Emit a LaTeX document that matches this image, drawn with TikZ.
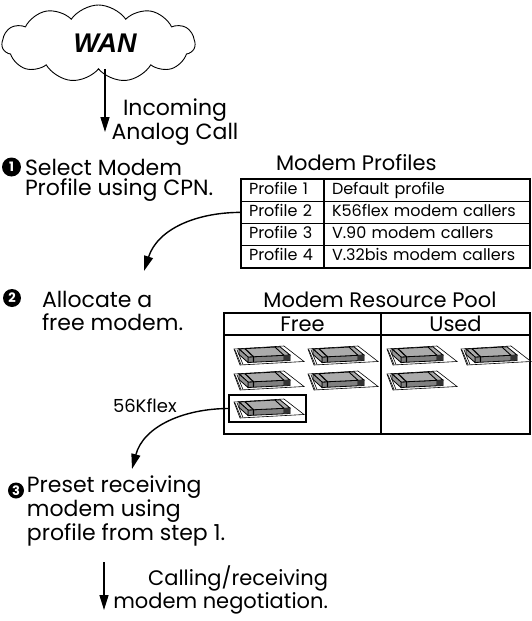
\documentclass[tikz,border=0pt]{standalone}
\usepackage{fontspec}
\setmainfont{Poppins}
\newfontfamily\wanfont{Liberation Sans}
\usetikzlibrary{arrows.meta,shapes.symbols}

% flat modem card drawn in perspective, origin at its top-left corner
\tikzset{
  modem/.pic={
    \draw[line width=0.6, fill=white] (0,3) -- (50,0) -- (70,15.5) -- (6,19) -- cycle;
    \draw[line width=0.8, fill=black!50] (14,11) -- (56,9) -- (56,14.5) -- (14,16.5) -- cycle;
    \draw[line width=0.8, fill=black!33] (5,3) -- (46,0.8) -- (56,9) -- (14,11) -- cycle;
    \draw[line width=0.8, fill=black!42] (5,3) -- (14,11) -- (14,16.5) -- (5,8.5) -- cycle;
    \draw[line width=1.2] (11,2.7) -- (19.5,10.8) -- (19.5,16.2);
    \draw[line width=0.9] (41,1.1) -- (50,9.3) -- (50,14.8);
    \fill[black!80] (50,9.3) -- (56,9) -- (56,14.5) -- (50,14.8) -- cycle;
    \draw[line width=0.6] (1,4) -- (7,18.5) (3,3.8) -- (9,18.5);
  }
}

\begin{document}
\begin{tikzpicture}[x=1pt, y=-1pt,
  every node/.style={inner sep=0, outer sep=0},
  flow/.style={line width=1.4, -{Triangle[length=15,width=9]}},
  caption/.style={font=\fontsize{22}{#1}\selectfont},
  caption/.default=22,
  num/.style={circle, fill=black, text=white, font=\fontsize{13}{13}\selectfont\bfseries},
  lcell/.style={draw, line width=1.1, anchor=north west, minimum height=22.25,
    text width=67, inner xsep=8, align=left, text height=11.5, text depth=3.5,
    font=\fontsize{16}{16}\selectfont},
  rcell/.style={lcell, text width=190},
  poolhead/.style={draw, line width=1.1, anchor=north west, minimum height=22,
    text height=15, text depth=0, font=\fontsize{21}{21}\selectfont},
  poolbody/.style={draw, line width=1.1, anchor=north west, minimum height=99},
]
\useasboundingbox (0,0) rectangle (531,621);

% network cloud
\node[cloud, draw, line width=0.9, cloud puffs=11, cloud puff arc=110,
      cloud ignores aspect, minimum width=193, minimum height=77] (cloud) at (98.5,43.5) {};
\node[font=\wanfont\fontsize{27}{27}\selectfont\bfseries\itshape] (wan) at (105,43) {WAN};
\coordinate (callin) at (105,132);
\draw[flow] (cloud.south -| callin) -- (callin);
\node[caption=24, align=center, anchor=base] (incoming) at (175,139) {Incoming\\Analog Call};

% step 1: profile selection
\node[num, minimum size=19] (n1) at (11.5,167) {1};
\node[caption=20, align=left, anchor=base west] (s1) at (25,195) {Select Modem\\Profile using CPN.};
\node[font=\fontsize{21}{21}\selectfont, anchor=base west] (proftitle) at (276,170) {Modem Profiles};

\node[lcell] (p1) at (241,179) {Profile 1};
\node[rcell] (d1) at (324,179) {Default profile};
\node[lcell] (p2) at (241,201.25) {Profile 2};
\node[rcell] (d2) at (324,201.25) {K56flex modem callers};
\node[lcell] (p3) at (241,223.5) {Profile 3};
\node[rcell] (d3) at (324,223.5) {V.90 modem callers};
\node[lcell] (p4) at (241,245.75) {Profile 4};
\node[rcell] (d4) at (324,245.75) {V.32bis modem callers};

\coordinate (a1) at (144,271);
\draw[flow] (p2.west) to[out=180, in=72] (a1);

% step 2: modem allocation
\node[num, minimum size=18] (n2) at (12,298) {2};
\node[caption=23, align=left, anchor=base west] (s2) at (42,330) {Allocate a\\free modem.};
\node[font=\fontsize{21}{21}\selectfont, anchor=base] (pooltitle) at (380,307) {Modem Resource Pool};

\node[poolhead, minimum width=157] (freehead) at (224,313) {Free};
\node[poolhead, minimum width=149] (usedhead) at (381,313) {Used};
\node[poolbody, minimum width=157] (freebody) at (224,335) {};
\node[poolbody, minimum width=149] (usedbody) at (381,335) {};

\pic at (234,346) {modem};
\pic at (308,346) {modem};
\pic at (234,371) {modem};
\pic at (308,371) {modem};
\pic at (387,346) {modem};
\pic at (461,346) {modem};
\pic at (387,371) {modem};

\node[draw, line width=1.1, anchor=north west, minimum width=77, minimum height=27] (sel) at (229,395) {};
\pic at (234,399) {modem};
\node[font=\fontsize{18}{18}\selectfont, anchor=base west] (flex) at (113,412) {56Kflex};

\coordinate (a2) at (132,469);
\draw[flow] (sel.west) to[out=180, in=75] (a2);

% step 3: preset and negotiation
\node[num, minimum size=16] (n3) at (16,490.5) {3};
\node[caption=21.5, align=left, anchor=base west] (s3) at (27,540) {Preset receiving\\modem using\\profile from step 1.};

\coordinate (negtop) at (104,562);
\coordinate (negend) at (104,610);
\draw[flow] (negtop) -- (negend);
\node[font=\fontsize{21}{20}\selectfont, align=right, anchor=base east] (nego) at (328,608) {Calling/receiving\\modem negotiation.};
\end{tikzpicture}
\end{document}
